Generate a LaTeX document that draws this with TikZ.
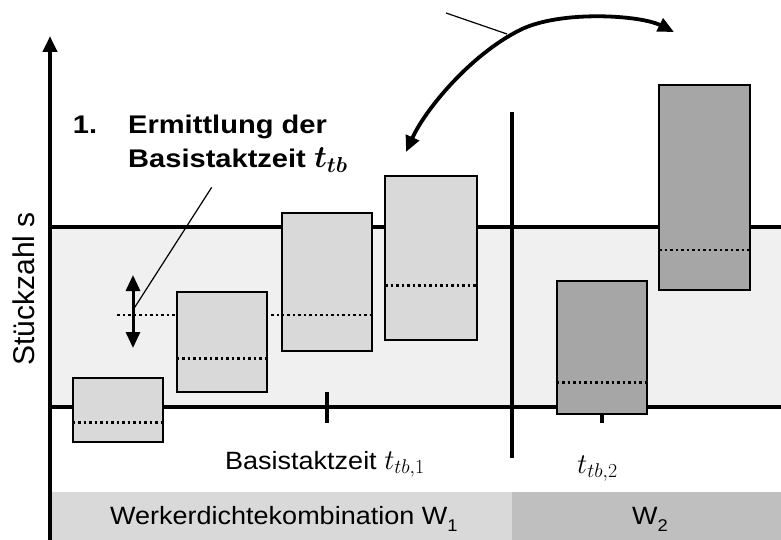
\documentclass[tikz,border=0pt]{standalone}
\usepackage{bm}
\usepackage{fontspec}
\usepackage{graphicx}
\setmainfont{Liberation Sans}[FakeStretch=1.08]
\newfontfamily\headfont{Liberation Sans}[FakeStretch=1.14]
\newfontfamily\axisfont{Liberation Sans}
\usetikzlibrary{arrows.meta}
\definecolor{bandgray}{HTML}{F0F0F0}
\definecolor{boxlight}{HTML}{D9D9D9}
\definecolor{boxdark}{HTML}{A6A6A6}
\definecolor{footlight}{HTML}{D9D9D9}
\definecolor{footdark}{HTML}{BFBFBF}
\newcommand\lowsub[1]{\raisebox{-0.3em}{\fontsize{17}{17}\selectfont #1}}
\newcommand\mathbig[1]{\scalebox{1.15}{#1}}

\begin{document}
\begin{tikzpicture}[x=1pt,y=-1pt,
  thickline/.style={line width=4pt},
  lightbox/.style={draw=black, line width=2pt, fill=boxlight},
  darkbox/.style={draw=black, line width=2pt, fill=boxdark},
  median/.style={line width=2.5pt, dash pattern=on 2.5pt off 3pt},
  bigtip/.style={-{Triangle[length=16pt,width=14pt]}},
  bothtips/.style={{Triangle[length=16pt,width=14pt]}-{Triangle[length=16pt,width=14pt]}},
  leader/.style={line width=1.2pt},
  lbl/.style={inner sep=0pt, anchor=base west, font=\fontsize{25}{30}\selectfont},
  boldlbl/.style={lbl, font=\headfont\fontsize{25.5}{30}\selectfont\bfseries}
]
\useasboundingbox (0,0) rectangle (781,540);

% tolerance band and footer
\fill[bandgray] (52,227) rectangle (781,407);
\fill[footlight] (52,492) rectangle (512,540);
\fill[footdark] (512,492) rectangle (781,540);

% reference level of the shifted median
\draw[median] (117,315) -- (282,315);

% ticks on the time axis
\coordinate (tick1a) at (326.7,392); \coordinate (tick1b) at (326.7,423);
\coordinate (tick2a) at (601.7,392); \coordinate (tick2b) at (601.7,423);
\draw[thickline] (tick1a) -- (tick1b);
\draw[thickline] (tick2a) -- (tick2b);

% band limits and combination divider
\coordinate (upL) at (50,227); \coordinate (upR) at (781,227);
\coordinate (loL) at (50,407); \coordinate (loR) at (781,407);
\draw[thickline] (upL) -- (upR);
\draw[thickline] (loL) -- (loR);
\coordinate (divT) at (512,112); \coordinate (divB) at (512,458);
\draw[thickline] (divT) -- (divB);

% boxes of combination W1
\draw[lightbox] (72.7,377.7) rectangle (163.3,442.3);
\draw[median] (72.7,422.3) -- (163.3,422.3);
\draw[lightbox] (176.7,292.3) rectangle (267.3,391.7);
\draw[median] (176.7,358.3) -- (267.3,358.3);
\draw[lightbox] (281.7,213.3) rectangle (372.3,351);
\draw[median] (281.7,315) -- (372.3,315);
\draw[lightbox] (385,175.7) rectangle (476.7,340);
\draw[median] (385,285.7) -- (476.7,285.7);

% boxes of combination W2
\draw[darkbox] (556.7,281) rectangle (647.3,414);
\draw[median] (556.7,382.3) -- (647.3,382.3);
\draw[darkbox] (659,85) rectangle (749.7,290);
\draw[median] (659,250) -- (749.7,250);

% vertical axis
\coordinate (axB) at (50,540); \coordinate (axT) at (50,36);
\draw[thickline, bigtip] (axB) -- (axT);

% shift arrow
\coordinate (shT) at (133,275); \coordinate (shB) at (133,348);
\draw[line width=3pt, bothtips] (shT) -- (shB);

% exchange arrow between the combinations
\coordinate (cvL) at (406,152); \coordinate (cvM) at (520,30); \coordinate (cvR) at (674,32);
\draw[line width=3.8pt, bothtips] (cvL) .. controls (425,110) and (470,55) .. (cvM)
  .. controls (560,10) and (640,15) .. (cvR);

% leader lines
\coordinate (ldA) at (133,310); \coordinate (ldB) at (211.7,187.3);
\draw[leader] (ldA) -- (ldB);
\coordinate (ldC) at (446,13); \coordinate (ldD) at (507,34);
\draw[leader] (ldC) -- (ldD);

% texts
\node[boldlbl] (num) at (72.7,134) {1.};
\node[boldlbl] (head1) at (128,134) {Ermittlung der};
\node[boldlbl] (head2) at (128,167.5) {Basistaktzeit \scalebox{1.25}{$\bm{t}_{\bm{tb}}$}};
\node[lbl] (tb1) at (225,469) {Basistaktzeit \mathbig{$t_{tb,1}$}};
\node[lbl] (tb2) at (577,473) {\mathbig{$t_{tb,2}$}};
\node[lbl] (w1) at (110,524) {Werkerdichtekombination W\lowsub{1}};
\node[lbl, anchor=base] (w2) at (650,524) {W\lowsub{2}};
\node[inner sep=0pt, rotate=90, font=\axisfont\fontsize{30}{30}\selectfont] (ylab) at (24,289) {Stückzahl s};
\end{tikzpicture}
\end{document}
